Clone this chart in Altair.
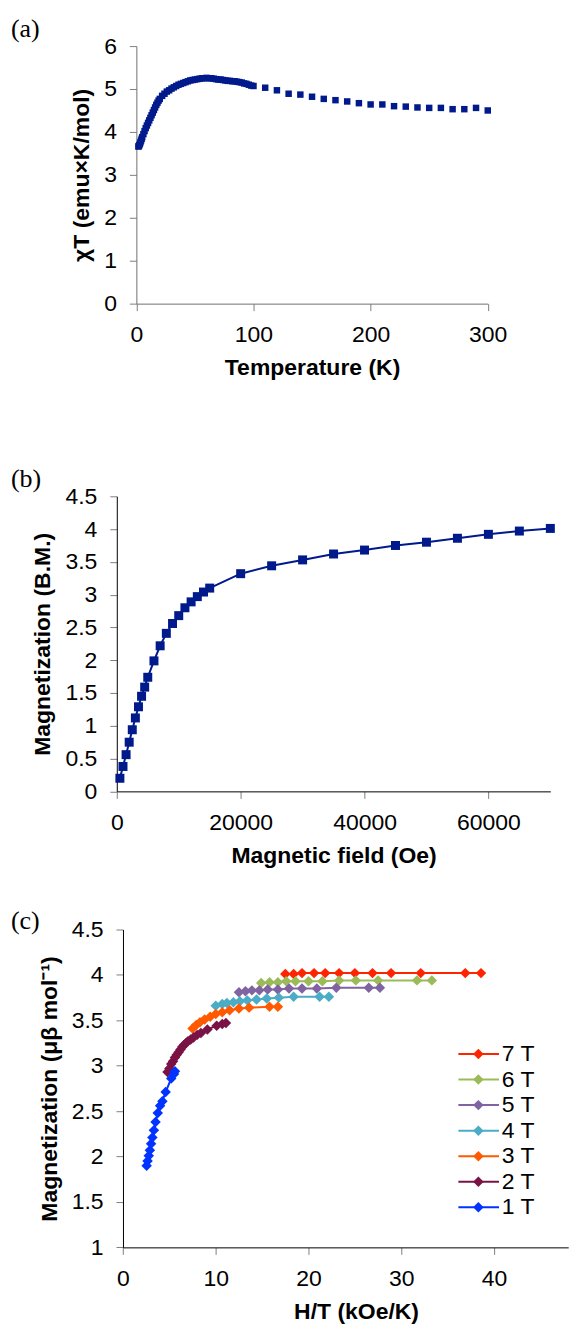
import altair as alt
import pandas as pd

# ---------------- Panel (a): chiT vs temperature ----------------
temp_a = [1.8, 2, 2.5, 3, 3.5, 4, 4.5, 5, 6, 7, 8, 9, 10, 11, 12, 13, 14, 15, 16, 17, 18, 19, 20,
          22, 24, 26, 28, 30, 32, 34, 36, 38, 40, 42, 44, 46, 48, 50, 52, 54, 56, 58, 60,
          62, 64, 66, 68, 70, 72, 74, 76, 78, 80, 82, 84, 86, 88, 90, 92, 94, 96, 98, 100,
          110, 120, 130, 140, 150, 160, 170, 180, 190, 200, 210, 220, 230, 240, 250, 260,
          270, 280, 290, 300]
chit_a = [3.66, 3.67, 3.69, 3.72, 3.76, 3.80, 3.84, 3.88, 3.95, 4.02, 4.09, 4.15, 4.21, 4.27,
          4.33, 4.39, 4.45, 4.51, 4.57, 4.63, 4.68, 4.73, 4.77,
          4.84, 4.89, 4.94, 4.97, 5.01, 5.04, 5.07, 5.10, 5.12, 5.14, 5.16, 5.18, 5.20, 5.21,
          5.22, 5.23, 5.24, 5.25, 5.25, 5.26,
          5.25, 5.25, 5.24, 5.23, 5.22, 5.22, 5.21, 5.20, 5.19, 5.19, 5.18, 5.18, 5.17, 5.16,
          5.15, 5.13, 5.12, 5.10, 5.08, 5.07,
          5.03, 4.97, 4.89, 4.87, 4.82, 4.77, 4.74, 4.71, 4.67, 4.64, 4.64, 4.60, 4.59, 4.57,
          4.56, 4.56, 4.53, 4.53, 4.56, 4.50]

# ---------------- Panel (b): magnetization vs field ----------------
field_b = [500, 1000, 1500, 2000, 2500, 3000, 3500, 4000, 4500, 5000, 6000, 7000, 8000, 9000,
           10000, 11000, 12000, 13000, 14000, 15000, 20000, 25000, 30000, 35000, 40000, 45000,
           50000, 55000, 60000, 65000, 70000]
mag_b = [0.20, 0.38, 0.56, 0.75, 0.94, 1.12, 1.29, 1.45, 1.59, 1.74, 1.99, 2.22, 2.41, 2.56,
         2.68, 2.80, 2.89, 2.97, 3.04, 3.10, 3.32, 3.44, 3.53, 3.62, 3.68, 3.75,
         3.80, 3.86, 3.92, 3.97, 4.01]

# ---------------- Panel (c): reduced magnetization ----------------
series_labels = ["7 T", "6 T", "5 T", "4 T", "3 T", "2 T", "1 T"]
series_colors = ["#FF2400", "#9BBB59", "#8064A2", "#4BACC6", "#FF5A00", "#7A1245", "#0033FF"]

ht_7t = [17.5, 18.4, 19.3, 20.6, 21.8, 23.3, 25.0, 26.9, 28.9, 32.1, 36.9, 38.6]
m_7t = [4.01, 4.01, 4.02, 4.02, 4.02, 4.02, 4.02, 4.02, 4.02, 4.02, 4.02, 4.02]
ht_6t = [14.9, 15.8, 16.7, 17.6, 18.6, 20.0, 21.5, 23.3, 25.1, 27.5, 31.7, 33.3]
m_6t = [3.91, 3.92, 3.92, 3.93, 3.93, 3.93, 3.93, 3.94, 3.94, 3.94, 3.94, 3.94]
ht_5t = [12.5, 13.2, 13.9, 14.7, 15.6, 16.7, 17.9, 19.3, 20.9, 23.0, 26.5, 27.7]
m_5t = [3.81, 3.82, 3.83, 3.83, 3.84, 3.84, 3.85, 3.85, 3.85, 3.86, 3.86, 3.86]
ht_4t = [10.0, 10.7, 11.2, 11.9, 12.6, 13.4, 14.4, 15.5, 16.8, 18.4, 21.2, 22.2]
m_4t = [3.66, 3.68, 3.69, 3.70, 3.71, 3.72, 3.73, 3.74, 3.75, 3.76, 3.76, 3.76]
ht_3t = [7.5, 7.9, 8.3, 8.8, 9.4, 10.0, 10.7, 11.5, 12.5, 13.6, 15.8, 16.7]
m_3t = [3.41, 3.45, 3.48, 3.51, 3.54, 3.57, 3.59, 3.61, 3.63, 3.64, 3.65, 3.65]
ht_2t = [4.8, 5.0, 5.2, 5.4, 5.6, 5.8, 6.0, 6.2, 6.4, 6.6, 6.8, 7.0, 7.3, 7.6, 8.0, 8.4,
         9.1, 10.1, 10.7, 11.1]
m_2t = [2.93, 2.97, 3.02, 3.05, 3.09, 3.12, 3.15, 3.18, 3.21, 3.23, 3.25, 3.27, 3.29, 3.31,
        3.34, 3.36, 3.40, 3.44, 3.46, 3.47]
ht_1t = [2.55, 2.65, 2.78, 2.90, 3.03, 3.17, 3.33, 3.51, 3.75, 4.00, 4.25, 4.60, 5.20, 5.50, 5.60]
m_1t = [1.90, 1.95, 2.01, 2.07, 2.14, 2.21, 2.29, 2.38, 2.48, 2.56, 2.61, 2.71, 2.86, 2.91, 2.94]

series_x = [ht_7t, ht_6t, ht_5t, ht_4t, ht_3t, ht_2t, ht_1t]
series_y = [m_7t, m_6t, m_5t, m_4t, m_3t, m_2t, m_1t]

panel_letters = ["(a)", "(b)", "(c)"]

# ---------------- styling ----------------
NAVY = "#001A8C"
FONT = "Liberation Sans"
SERIF = "Liberation Serif"
LBL = 23
TTL = 23
LEFT = 116.1          # common group origin (page x)
DIAMOND = 110


def axis(title, values, fmt=None, domain_color="#000000", **kw):
    args = dict(title=title, values=values, grid=False, domainColor=domain_color,
                tickColor="#808080", tickSize=7, labelPadding=13, labelFlush=False,
                labelOverlap=False, labelFont=FONT, labelFontSize=LBL, labelColor="black",
                titleFont=FONT, titleFontSize=TTL, titleFontWeight="bold", titleColor="black",
                titlePadding=10)
    if fmt:
        args["format"] = fmt
    args.update(kw)
    return alt.Axis(**args)


def panel_label(i, dy):
    return alt.Chart(pd.DataFrame({"t": [panel_letters[i]]})).mark_text(
        align="left", baseline="top", font=SERIF, fontSize=26, color="black"
    ).encode(x=alt.value(10 - LEFT), y=alt.value(dy), text="t:N")


def spacer(h):
    return alt.Chart(pd.DataFrame({"s": [0]})).mark_point(opacity=0).encode(
        x=alt.X("s:Q", axis=None), y=alt.Y("s:Q", axis=None)
    ).properties(width=1, height=h)


# ---------------- chart (a) ----------------
off_a = 135.7 - LEFT
df_a = pd.DataFrame({"T": temp_a, "chiT": chit_a})
pts_a = alt.Chart(df_a).mark_square(size=42, color=NAVY, opacity=1).encode(
    x=alt.X("T:Q", scale=alt.Scale(domain=[0, 300], nice=False, range=[off_a, off_a + 352]),
            axis=axis("Temperature (K)", [0, 100, 200, 300], domain_color="#707070")),
    y=alt.Y("chiT:Q", scale=alt.Scale(domain=[0, 6], nice=False),
            axis=axis("χT (emu×K/mol)", [0, 1, 2, 3, 4, 5, 6], domain_color="#707070",
                      offset=-off_a)),
)
chart_a = alt.layer(pts_a, panel_label(0, -30)).properties(width=off_a + 352, height=258)

# ---------------- chart (b) ----------------
df_b = pd.DataFrame({"H": field_b, "M": mag_b})
line_b = alt.Chart(df_b).mark_line(
    color=NAVY, strokeWidth=2,
    point=alt.OverlayMarkDef(shape="square", filled=True, size=81, color=NAVY, opacity=1),
).encode(
    x=alt.X("H:Q", scale=alt.Scale(domain=[0, 70000], nice=False),
            axis=axis("Magnetic field (Oe)", [0, 20000, 40000, 60000], fmt="d")),
    y=alt.Y("M:Q", scale=alt.Scale(domain=[0, 4.5], nice=False),
            axis=axis("Magnetization (B.M.)", [0, 0.5, 1, 1.5, 2, 2.5, 3, 3.5, 4, 4.5], fmt="~g")),
)
chart_b = alt.layer(line_b, panel_label(1, -30)).properties(width=434.3, height=295.6)

# ---------------- chart (c) ----------------
off_c = 122.3 - LEFT
rows = []
for lab, xs, ys in zip(series_labels, series_x, series_y):
    for k, (xv, yv) in enumerate(zip(xs, ys)):
        rows.append({"series": lab, "HT": xv, "M": yv, "k": k})
df_c = pd.DataFrame(rows)
color_scale = alt.Scale(domain=series_labels, range=series_colors)

lines_c = alt.Chart(df_c).mark_line(
    strokeWidth=2,
    point=alt.OverlayMarkDef(shape="diamond", filled=True, size=DIAMOND, opacity=1),
).encode(
    x=alt.X("HT:Q", scale=alt.Scale(domain=[0, 48], nice=False, range=[off_c, off_c + 446]),
            axis=axis("H/T (kOe/K)", [0, 10, 20, 30, 40], titleX=off_c + 233.5)),
    y=alt.Y("M:Q", scale=alt.Scale(domain=[1, 4.5], nice=False),
            axis=axis("Magnetization (μβ mol⁻¹)", [1, 1.5, 2, 2.5, 3, 3.5, 4, 4.5], fmt="~g",
                      offset=-off_c)),
    color=alt.Color("series:N", scale=color_scale, legend=None),
    order=alt.Order("k:Q"),
)

legend_df = pd.DataFrame({"series": series_labels})
leg_y = alt.Y("series:N", sort=series_labels,
              scale=alt.Scale(type="point", range=[124.7, 278.3], padding=0), axis=None)
leg_color = alt.Color("series:N", scale=color_scale, legend=None)
leg_rule = alt.Chart(legend_df).mark_rule(strokeWidth=2).encode(
    x=alt.value(off_c + 336), x2=alt.value(off_c + 376.7), y=leg_y, color=leg_color)
leg_pt = alt.Chart(legend_df).mark_point(shape="diamond", filled=True, size=DIAMOND,
                                         opacity=1).encode(
    x=alt.value(off_c + 356), y=leg_y, color=leg_color)
leg_txt = alt.Chart(legend_df).mark_text(
    align="left", baseline="middle", font=FONT, fontSize=LBL, color="black"
).encode(x=alt.value(off_c + 379.5), y=leg_y, text="series:N")
legend_c = alt.layer(leg_rule, leg_pt, leg_txt)

chart_c = alt.layer(lines_c, legend_c, panel_label(2, -22)).resolve_scale(
    y="independent").properties(width=off_c + 446, height=318.4)

# ---------------- layout ----------------
chart = alt.vconcat(chart_a, spacer(192.7), chart_b, spacer(138), chart_c,
                    spacing=0, bounds="flush").properties(
    padding={"left": 10, "top": 15, "right": 0, "bottom": 0},
    background="white",
).configure_view(stroke=None)

chart.save("out.html", embed_options={"renderer": "svg", "actions": False})
